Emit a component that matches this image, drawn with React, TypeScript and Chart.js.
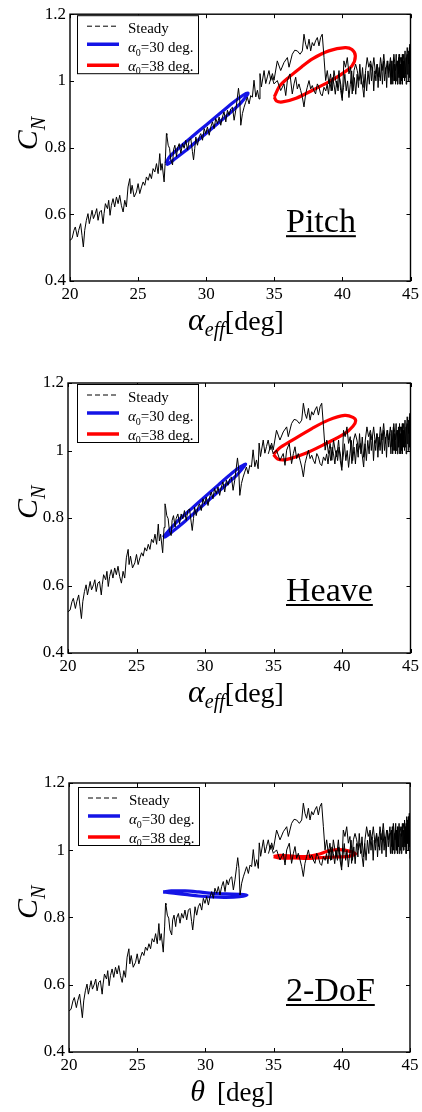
import React, { useEffect, useRef } from "react";
import { Chart, registerables } from "chart.js";
Chart.register(...registerables);

const SERIF = '"Liberation Serif", "Times New Roman", Times, serif';

// ---------------- axes ----------------
const xRange = [20, 45];
const yRange = [0.4, 1.2];
const xTicks = [20, 25, 30, 35, 40, 45];
const xTickLabels = ["20", "25", "30", "35", "40", "45"];
const yTicks = [0.4, 0.6, 0.8, 1.0, 1.2];
const yTickLabels = ["0.4", "0.6", "0.8", "1", "1.2"];

// ---------------- texts ----------------
const seriesNames = ["Steady", "=30 deg.", "=38 deg."];
const legendSymbol = "α";
const legendSub = "0";
const panelNames = ["Pitch", "Heave", "2-DoF"];
const xTitleSymbols = ["α", "α", "θ"];
const xTitleSubs = ["eff", "eff", ""];
const xTitleUnit = "[deg]";
const yTitleMain = "C";
const yTitleSub = "N";

// ---------------- steady curve (increasing angle) ----------------
const steadyAscent: [number, number][] = [
  [20.0, 0.522], [20.15, 0.527], [20.29, 0.552], [20.39, 0.562], [20.54, 0.532], [20.64, 0.552],
  [20.78, 0.572], [20.88, 0.537], [20.98, 0.502], [21.08, 0.552], [21.2, 0.582], [21.32, 0.602],
  [21.42, 0.572], [21.52, 0.592], [21.62, 0.612], [21.72, 0.587], [21.86, 0.602], [21.96, 0.617],
  [22.06, 0.582], [22.18, 0.607], [22.3, 0.612], [22.43, 0.572], [22.5, 0.602], [22.6, 0.632],
  [22.75, 0.617], [22.84, 0.642], [22.94, 0.597], [23.04, 0.627], [23.16, 0.647], [23.28, 0.622],
  [23.41, 0.652], [23.53, 0.632], [23.65, 0.657], [23.77, 0.627], [23.9, 0.607], [24.02, 0.642],
  [24.14, 0.622], [24.26, 0.682], [24.39, 0.707], [24.46, 0.662], [24.56, 0.687], [24.71, 0.652],
  [24.88, 0.667], [25.0, 0.692], [25.12, 0.662], [25.25, 0.682], [25.37, 0.697], [25.49, 0.687],
  [25.61, 0.712], [25.74, 0.702], [25.86, 0.722], [25.98, 0.707], [26.1, 0.737], [26.23, 0.727],
  [26.35, 0.752], [26.47, 0.722], [26.59, 0.782], [26.67, 0.732], [26.76, 0.752], [26.91, 0.697],
  [27.01, 0.772], [27.08, 0.842], [27.11, 0.837], [27.21, 0.807], [27.31, 0.798], [27.4, 0.763],
  [27.53, 0.748], [27.6, 0.793], [27.7, 0.807], [27.82, 0.773], [27.89, 0.798], [28.02, 0.812],
  [28.14, 0.783], [28.26, 0.812], [28.38, 0.798], [28.5, 0.822], [28.63, 0.793], [28.75, 0.822],
  [28.87, 0.827], [28.99, 0.788], [29.07, 0.763], [29.16, 0.798], [29.24, 0.832], [29.36, 0.807],
  [29.48, 0.832], [29.6, 0.842], [29.73, 0.822], [29.85, 0.857], [29.97, 0.842], [30.09, 0.862],
  [30.22, 0.837], [30.34, 0.862], [30.46, 0.877], [30.58, 0.857], [30.7, 0.887], [30.83, 0.872],
  [30.95, 0.892], [31.07, 0.867], [31.19, 0.892], [31.31, 0.907], [31.44, 0.877], [31.56, 0.912],
  [31.68, 0.897], [31.8, 0.916], [31.93, 0.921], [32.05, 0.882], [32.17, 0.912], [32.29, 0.951],
  [32.37, 0.978], [32.46, 0.946], [32.54, 0.867], [32.66, 0.902], [32.78, 0.921], [32.9, 0.936],
  [33.02, 0.951], [33.15, 0.931], [33.27, 0.956], [33.39, 0.951], [33.51, 1.002], [33.64, 0.952],
  [33.76, 0.972], [33.88, 0.946], [33.95, 1.022], [34.05, 0.982], [34.25, 1.031], [34.37, 0.992],
  [34.49, 1.012], [34.61, 1.031], [34.74, 1.002], [34.86, 1.022], [34.98, 1.002], [35.22, 1.06],
  [35.47, 1.031], [35.71, 1.055], [35.96, 1.07], [36.08, 1.041], [36.32, 1.08], [36.5, 1.092],
  [36.69, 1.09], [36.89, 1.08], [37.06, 1.09], [37.18, 1.14], [37.3, 1.11], [37.42, 1.095],
  [37.55, 1.125], [37.67, 1.09], [37.79, 1.115], [37.91, 1.105], [38.03, 1.12], [38.16, 1.13],
  [38.28, 1.105], [38.4, 1.13], [38.52, 1.14], [38.65, 1.07], [38.77, 1.001], [38.89, 1.031],
  [39.01, 0.991], [39.13, 1.021], [39.26, 0.971], [39.38, 1.031], [39.5, 1.001], [39.62, 0.981],
  [39.75, 1.031], [39.87, 0.971], [39.99, 0.941], [40.11, 1.06], [40.23, 1.041], [40.36, 1.07],
  [40.48, 1.021], [40.6, 1.041], [40.72, 0.961], [40.85, 1.031], [40.97, 1.05], [41.09, 1.031],
  [41.21, 1.001], [41.33, 1.021], [41.46, 0.991], [41.58, 0.951], [41.7, 1.031], [41.82, 1.07],
  [41.94, 1.041], [42.07, 1.06], [42.19, 1.031], [42.31, 1.07], [42.43, 1.021], [42.56, 1.05],
  [42.68, 1.011], [42.8, 1.07], [42.92, 1.031], [43.04, 1.08], [43.17, 1.021], [43.29, 1.06],
  [43.41, 1.031], [43.53, 1.07], [43.65, 1.011], [43.78, 1.08], [43.9, 1.031], [44.02, 1.06],
  [44.14, 1.021], [44.27, 1.07], [44.39, 1.041], [44.51, 1.08], [44.63, 1.021], [44.76, 1.1],
  [44.88, 1.05], [44.95, 1.11], [45.0, 0.975],
];

// ---------------- steady curve (decreasing angle, lower branch) ----------------
const steadyDescent: [number, number][] = [
  [44.99, 1.09], [44.95, 1.01], [44.92, 1.1], [44.88, 1.0], [44.84, 1.09], [44.8, 1.02],
  [44.76, 1.08], [44.72, 0.99], [44.68, 1.07], [44.64, 1.01], [44.6, 1.09], [44.56, 1.0],
  [44.52, 1.06], [44.48, 1.01], [44.44, 1.08], [44.4, 0.99], [44.36, 1.07], [44.32, 1.0],
  [44.28, 1.05], [44.24, 0.99], [44.2, 1.08], [44.16, 1.01], [44.12, 1.07], [44.08, 0.99],
  [44.04, 1.06], [44.0, 1.0], [43.95, 1.08], [43.9, 0.99], [43.85, 1.05], [43.8, 1.0],
  [43.75, 1.07], [43.7, 0.99], [43.64, 1.06], [43.57, 0.99], [43.49, 1.05], [43.41, 1.01],
  [43.33, 1.06], [43.25, 0.98], [43.18, 1.04], [43.1, 1.0], [43.02, 1.06], [42.94, 0.99],
  [42.86, 1.05], [42.78, 1.0], [42.7, 1.04], [42.62, 0.98], [42.54, 1.05], [42.46, 1.0],
  [42.38, 1.03], [42.3, 0.97], [42.22, 1.04], [42.14, 1.0], [42.06, 1.05], [41.98, 0.99],
  [41.88, 1.03], [41.78, 0.97], [41.68, 1.02], [41.58, 0.98], [41.48, 1.04], [41.38, 0.99],
  [41.28, 1.05], [41.18, 0.98], [41.08, 1.02], [40.98, 0.96], [40.88, 1.01], [40.78, 0.97],
  [40.68, 1.03], [40.58, 0.99], [40.48, 0.95], [40.38, 1.0], [40.28, 0.97], [40.18, 1.02],
  [40.08, 0.98], [39.98, 0.95], [39.88, 0.99], [39.78, 1.01], [39.68, 0.97], [39.58, 1.0],
  [39.48, 0.96], [39.38, 0.99], [39.28, 1.01], [39.18, 0.97], [39.08, 1.0], [38.98, 0.96],
  [38.88, 0.99], [38.78, 0.97], [38.65, 0.981], [38.52, 0.955], [38.4, 0.961], [38.28, 0.981],
  [38.16, 0.991], [38.03, 0.961], [37.91, 0.971], [37.79, 0.986], [37.67, 0.976], [37.55, 1.001],
  [37.42, 0.981], [37.3, 0.961], [37.18, 0.922], [37.06, 0.951], [36.94, 0.971], [36.81, 0.991],
  [36.69, 0.976], [36.57, 1.011], [36.45, 0.991], [36.32, 0.961], [36.15, 1.021], [35.96, 1.001],
  [35.84, 0.956], [35.71, 0.991], [35.47, 0.971], [35.22, 1.001], [34.98, 0.991], [34.8, 1.015],
  [34.62, 0.99],
];

// ---------------- dynamic loops ----------------
const pitchLoop30: [number, number][] = [
  [27.04, 0.753], [27.3, 0.772], [28.0, 0.799], [29.0, 0.834], [30.0, 0.868], [31.0, 0.902],
  [32.0, 0.936], [32.7, 0.957], [33.07, 0.963], [32.9, 0.952], [32.4, 0.928], [31.5, 0.895],
  [30.5, 0.86], [29.5, 0.826], [28.5, 0.791], [27.6, 0.763], [27.15, 0.75], [27.04, 0.753],
];
const pitchLoop38: [number, number][] = [
  [35.0, 0.952], [35.4, 0.985], [36.1, 1.012], [37.0, 1.042], [37.8, 1.066], [39.0, 1.09],
  [40.2, 1.1], [40.7, 1.094], [40.95, 1.075], [40.7, 1.045], [40.0, 1.022], [39.0, 0.997],
  [37.8, 0.972], [36.6, 0.948], [35.6, 0.937], [35.15, 0.94], [35.0, 0.952],
];
const heaveLoop30: [number, number][] = [
  [26.95, 0.743], [27.3, 0.76], [28.0, 0.791], [29.0, 0.827], [30.0, 0.863], [31.0, 0.899],
  [32.0, 0.934], [32.6, 0.952], [32.96, 0.96], [32.8, 0.95], [32.3, 0.926], [31.5, 0.897],
  [30.5, 0.861], [29.5, 0.825], [28.5, 0.789], [27.6, 0.759], [27.1, 0.744], [26.95, 0.743],
];
const heaveLoop38: [number, number][] = [
  [35.0, 0.988], [35.4, 1.006], [36.35, 1.03], [37.8, 1.065], [39.0, 1.09], [40.2, 1.104],
  [40.8, 1.098], [41.0, 1.088], [40.8, 1.072], [40.2, 1.05], [38.8, 1.02], [37.3, 0.991],
  [35.9, 0.973], [35.3, 0.975], [35.0, 0.988],
];
const dofLoop30: [number, number][] = [
  [26.9, 0.876], [27.5, 0.879], [28.5, 0.879], [29.5, 0.876], [30.5, 0.872], [31.5, 0.87],
  [32.5, 0.869], [33.05, 0.867], [32.5, 0.862], [31.5, 0.86], [30.5, 0.861], [29.5, 0.864],
  [28.5, 0.869], [27.5, 0.873], [26.9, 0.876],
];
const dofLoop38: [number, number][] = [
  [35.0, 0.981], [35.5, 0.985], [36.5, 0.982], [37.5, 0.982], [38.3, 0.988], [39.0, 0.998],
  [39.7, 1.002], [40.4, 0.999], [41.0, 0.989], [40.5, 0.982], [39.5, 0.98], [38.5, 0.978],
  [37.5, 0.976], [36.5, 0.977], [35.5, 0.977], [35.0, 0.981],
];

const loops30 = [pitchLoop30, heaveLoop30, dofLoop30];
const loops38 = [pitchLoop38, heaveLoop38, dofLoop38];

// ---------------- layout (pixels) ----------------
const BLUE = "#1414e6";
const RED = "#ff0000";
const LAYOUT = [
  { y: 0, h: 345, left: 70, right: 411, top: 14, bottom: 281, lgx: 7, lgy: 1, tcx: 166 },
  { y: 365, h: 350, left: 68, right: 412, top: 18, bottom: 288, lgx: 9, lgy: 1, tcx: 168 },
  { y: 765, h: 347, left: 69, right: 410, top: 18, bottom: 287, lgx: 9, lgy: 4, tcx: 163 },
];

type Run = { t: string; font: string; dy?: number; dx?: number };
function runsWidth(ctx: CanvasRenderingContext2D, runs: Run[]) {
  let w = 0;
  for (const r of runs) {
    ctx.font = r.font;
    w += ctx.measureText(r.t).width + (r.dx || 0);
  }
  return w;
}
function drawRuns(ctx: CanvasRenderingContext2D, x: number, y: number, runs: Run[]) {
  let cx = x;
  for (const r of runs) {
    cx += r.dx || 0;
    ctx.font = r.font;
    ctx.fillText(r.t, cx, y + (r.dy || 0));
    cx += ctx.measureText(r.t).width;
  }
  return cx;
}

function drawOverlay(chart: any, idx: number) {
  const ctx: CanvasRenderingContext2D = chart.ctx;
  const L = LAYOUT[idx];
  const { left, right, top, bottom } = chart.chartArea;
  const xs = chart.scales.x;
  const ys = chart.scales.y;
  ctx.save();
  ctx.strokeStyle = "#000";
  ctx.fillStyle = "#000";
  ctx.lineWidth = 1;
  ctx.setLineDash([]);
  // inward tick marks on all four sides
  ctx.beginPath();
  for (const v of xTicks) {
    const p = Math.round(xs.getPixelForValue(v)) + 0.5;
    ctx.moveTo(p, bottom);
    ctx.lineTo(p, bottom - 4);
    ctx.moveTo(p, top);
    ctx.lineTo(p, top + 4);
  }
  for (const v of yTicks) {
    const p = Math.round(ys.getPixelForValue(v)) + 0.5;
    ctx.moveTo(left, p);
    ctx.lineTo(left + 4, p);
    ctx.moveTo(right, p);
    ctx.lineTo(right - 4, p);
  }
  ctx.stroke();
  // frame
  ctx.lineWidth = 1.4;
  ctx.strokeRect(left, top, right - left, bottom - top);

  // legend
  const bx = left + L.lgx;
  const by = top + L.lgy;
  const bw = 121;
  const bh = 58;
  ctx.fillStyle = "#fff";
  ctx.fillRect(bx, by, bw, bh);
  ctx.save();
  ctx.beginPath();
  ctx.rect(bx, by, bw, bh);
  ctx.clip();
  const sx0 = bx + 10;
  const sx1 = bx + 42;
  ctx.strokeStyle = "#000";
  ctx.lineWidth = 1;
  ctx.setLineDash([5, 3]);
  ctx.beginPath();
  ctx.moveTo(sx0, by + 11);
  ctx.lineTo(sx1, by + 11);
  ctx.stroke();
  ctx.setLineDash([]);
  ctx.lineWidth = 3.5;
  ctx.strokeStyle = BLUE;
  ctx.beginPath();
  ctx.moveTo(sx0, by + 29);
  ctx.lineTo(sx1, by + 29);
  ctx.stroke();
  ctx.strokeStyle = RED;
  ctx.beginPath();
  ctx.moveTo(sx0, by + 50);
  ctx.lineTo(sx1, by + 50);
  ctx.stroke();
  ctx.fillStyle = "#000";
  ctx.textBaseline = "alphabetic";
  ctx.textAlign = "left";
  const tx = bx + 51;
  ctx.font = `15px ${SERIF}`;
  ctx.fillText(seriesNames[0], tx, by + 18);
  for (let k = 1; k <= 2; k++) {
    drawRuns(ctx, tx, by + (k === 1 ? 37 : 55.5), [
      { t: legendSymbol, font: `italic 15px ${SERIF}` },
      { t: legendSub, font: `10px ${SERIF}`, dy: 3.5 },
      { t: seriesNames[k], font: `15px ${SERIF}` },
    ]);
  }
  ctx.restore();
  ctx.lineWidth = 1;
  ctx.strokeStyle = "#000";
  ctx.strokeRect(bx + 0.5, by + 0.5, bw, bh);

  // panel label, underlined
  ctx.fillStyle = "#000";
  ctx.font = `34px ${SERIF}`;
  const name = panelNames[idx];
  const lw = ctx.measureText(name).width;
  ctx.fillText(name, 286, top + 218);
  ctx.fillRect(286, top + 221, lw, 2);

  // y title (rotated)
  ctx.save();
  ctx.translate(37, top + 136);
  ctx.rotate(-Math.PI / 2);
  drawRuns(ctx, 0, 0, [
    { t: yTitleMain, font: `italic 30px ${SERIF}` },
    { t: yTitleSub, font: `italic 20px ${SERIF}`, dy: 8 },
  ]);
  ctx.restore();

  // x title
  const runs: Run[] =
    xTitleSubs[idx] !== ""
      ? [
          { t: xTitleSymbols[idx], font: `italic 32px ${SERIF}` },
          { t: xTitleSubs[idx], font: `italic 20px ${SERIF}`, dy: 6 },
          { t: xTitleUnit, font: `28px ${SERIF}` },
        ]
      : [
          { t: xTitleSymbols[idx], font: `italic 30px ${SERIF}` },
          { t: xTitleUnit, font: `27px ${SERIF}`, dx: 12 },
        ];
  const tw = runsWidth(ctx, runs);
  drawRuns(ctx, left + L.tcx - tw / 2, bottom + 49, runs);
  ctx.restore();
}

function toXY(arr: [number, number][]) {
  return arr.map(([x, y]) => ({ x, y }));
}

function Panel({ idx }: { idx: number }) {
  const ref = useRef<HTMLCanvasElement>(null);
  const L = LAYOUT[idx];
  useEffect(() => {
    const canvas = ref.current;
    if (!canvas) return;
    const overlay = {
      id: "overlay" + idx,
      afterDraw(chart: any) {
        drawOverlay(chart, idx);
      },
    };
    const tickFont = { family: SERIF, size: 17 };
    const chart = new Chart(canvas, {
      type: "scatter",
      data: {
        datasets: [
          {
            label: "Steady",
            data: toXY(steadyAscent),
            showLine: true,
            borderColor: "#000",
            borderWidth: 1,
            pointRadius: 0,
            tension: 0,
          },
          {
            label: "Steady (decreasing)",
            data: toXY(steadyDescent),
            showLine: true,
            borderColor: "#000",
            borderWidth: 1,
            pointRadius: 0,
            tension: 0,
          },
          {
            label: "alpha0=30",
            data: toXY(loops30[idx]),
            showLine: true,
            borderColor: BLUE,
            borderWidth: 3.2,
            pointRadius: 0,
            tension: 0.3,
          },
          {
            label: "alpha0=38",
            data: toXY(loops38[idx]),
            showLine: true,
            borderColor: RED,
            borderWidth: 3.2,
            pointRadius: 0,
            tension: 0.3,
          },
        ],
      } as any,
      options: {
        responsive: false,
        animation: false,
        events: [],
        layout: { padding: { left: 0, right: 422 - L.right, top: L.top, bottom: 0 } },
        plugins: { legend: { display: false }, tooltip: { enabled: false }, title: { display: false } },
        scales: {
          x: {
            type: "linear",
            min: xRange[0],
            max: xRange[1],
            grid: { display: false, drawTicks: false },
            border: { display: false },
            afterBuildTicks: (s: any) => {
              s.ticks = xTicks.map((v) => ({ value: v }));
            },
            afterFit: (s: any) => {
              s.height = L.h - L.bottom;
            },
            ticks: {
              autoSkip: false,
              maxRotation: 0,
              padding: 3,
              color: "#000",
              font: tickFont,
              callback: (_v: any, i: number) => xTickLabels[i],
            },
          },
          y: {
            type: "linear",
            min: yRange[0],
            max: yRange[1],
            grid: { display: false, drawTicks: false },
            border: { display: false },
            afterBuildTicks: (s: any) => {
              s.ticks = yTicks.map((v) => ({ value: v }));
            },
            afterFit: (s: any) => {
              s.width = L.left;
            },
            ticks: {
              autoSkip: false,
              padding: 4,
              color: "#000",
              font: tickFont,
              callback: (_v: any, i: number) => yTickLabels[i],
            },
          },
        },
      } as any,
      plugins: [overlay],
    });
    return () => chart.destroy();
  }, [idx]);
  return (
    <canvas
      ref={ref}
      width={422}
      height={L.h}
      style={{ position: "absolute", left: 0, top: L.y, width: 422, height: L.h }}
    />
  );
}

export default function App() {
  return (
    <div
      style={{
        position: "absolute",
        left: 0,
        top: 0,
        width: 422,
        height: 1112,
        overflow: "hidden",
        background: "#fff",
      }}
    >
      <Panel idx={0} />
      <Panel idx={1} />
      <Panel idx={2} />
    </div>
  );
}
